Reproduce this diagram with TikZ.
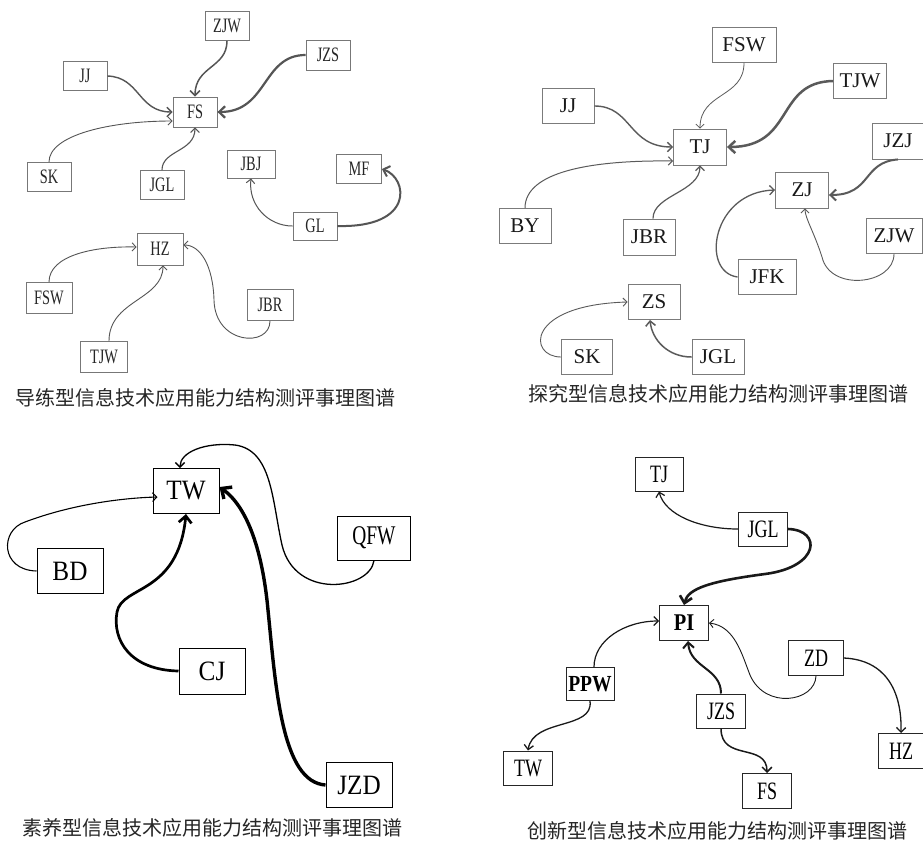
\documentclass[tikz,border=0pt]{standalone}
\usepackage{fontspec}
\setmainfont{Liberation Serif}
\newfontfamily\cjk{Noto Sans CJK SC}
\newfontfamily\condA[FakeStretch=0.7]{Liberation Serif}
\newfontfamily\condC[FakeStretch=0.9]{Liberation Serif}
\newfontfamily\condQ[FakeStretch=0.72]{Liberation Serif}
\newfontfamily\condD[FakeStretch=0.72]{Liberation Serif}
\newfontfamily\condDb[FakeStretch=0.85]{Liberation Serif}
\usetikzlibrary{arrows.meta}
\definecolor{gA}{HTML}{555555}
\definecolor{gB}{HTML}{5A5A5A}
\tikzset{
  boxA/.style={draw=gA!80, line width=0.9pt, inner sep=0pt, minimum width=44pt, minimum height=29pt,
    font=\condA\fontsize{20.5}{22}\selectfont, text=black!85},
  boxB/.style={draw=gB!80, line width=0.9pt, inner sep=0pt, minimum width=53pt, minimum height=35pt,
    font=\fontsize{21}{23}\selectfont, text=black!90},
  boxC/.style={draw=black, line width=1pt, inner sep=0pt, minimum width=66pt, minimum height=45pt,
    font=\condC\fontsize{28}{30}\selectfont},
  boxD/.style={draw=black!85, line width=1pt, inner sep=0pt, minimum width=49pt, minimum height=34pt,
    font=\condD\fontsize{25}{27}\selectfont},
  capt/.style={font=\cjk\fontsize{20}{22}\selectfont, text=black!85, inner sep=0pt},
  arr/.style={-{Straight Barb[length=2.5pt 1.6, width=6pt 2.5]}},
  eA/.style={arr, draw=gA},
  eB/.style={arr, draw=gB},
  eC/.style={arr, draw=black},
  eD/.style={arr, draw=black!90},
}
\begin{document}
\begin{tikzpicture}[x=1pt, y=-1pt]
\useasboundingbox[fill=white] (0,0) rectangle (923,841);

% ---------------- Quadrant 1 ----------------
\node[boxA] (aZJW) at (227,26) {ZJW};
\node[boxA, minimum height=30pt] (aJZS) at (328,55) {JZS};
\node[boxA] (aJJ) at (85,76) {JJ};
\node[boxA, minimum height=30pt] (aFS) at (195,112) {FS};
\node[boxA] (aSK) at (49,177) {SK};
\node[boxA] (aJGL) at (162,185) {JGL};
\node[boxA, minimum width=48pt, minimum height=28pt] (aJBJ) at (251,164) {JBJ};
\node[boxA, minimum width=45pt] (aMF) at (359,169) {MF};
\node[boxA, minimum height=28pt] (aGL) at (315,226) {GL};
\node[boxA, minimum width=46pt, minimum height=32pt] (aHZ) at (160,249) {HZ};
\node[boxA, minimum width=46pt, minimum height=31pt] (aFSW) at (49,298) {FSW};
\node[boxA, minimum width=46pt, minimum height=31pt] (aJBR) at (270,305) {JBR};
\node[boxA, minimum width=47pt, minimum height=31pt] (aTJW) at (104,357) {TJW};
\node[capt] (capA) at (205,398) {导练型信息技术应用能力结构测评事理图谱};

\draw[eA, line width=1.5pt] (aZJW.south) .. controls (227,68) and (195,66) .. (aFS.north);
\draw[eA, line width=2.2pt] (aJZS.west) .. controls (262,55) and (268,112) .. (aFS.east);
\draw[eA, line width=1.4pt] (aJJ.east) .. controls (140,77) and (138,112) .. (aFS.west);
\draw[eA, line width=0.9pt] (aSK.north) .. controls (49,135) and (110,121) .. ([yshift=-9pt]aFS.west);
\draw[eA, line width=1.1pt] (aJGL.north) .. controls (162,150) and (195,152) .. (aFS.south);
\draw[eA, line width=1pt] (aGL.west) .. controls (268,226) and (248,205) .. (aJBJ.south);
\draw[eA, line width=2pt] (aGL.east) .. controls (415,228) and (408,178) .. (aMF.east);
\draw[eA, line width=0.9pt] (aFSW.north) .. controls (49,255) and (95,246) .. ([yshift=2pt]aHZ.west);
\draw[eA, line width=0.9pt] ([xshift=5pt]aTJW.north) .. controls (109,300) and (163,300) .. ([xshift=3pt]aHZ.south);
\draw[eA, line width=0.9pt] (aJBR.south) .. controls (270,348) and (215,345) .. (214,300)
   .. controls (213,265) and (200,245) .. ([yshift=4pt]aHZ.east);

% ---------------- Quadrant 2 ----------------
\node[boxB, minimum width=64pt] (bFSW) at (744,45) {FSW};
\node[boxB] (bTJW) at (860,81) {TJW};
\node[boxB, minimum width=52pt] (bJJ) at (568,106) {JJ};
\node[boxB, minimum height=36pt] (bTJ) at (700,147) {TJ};
\node[boxB, minimum width=52pt, minimum height=36pt] (bJZJ) at (898,141) {JZJ};
\node[boxB, minimum height=36pt] (bZJ) at (802,190) {ZJ};
\node[boxB, minimum width=52pt] (bBY) at (525,226) {BY};
\node[boxB, minimum width=52pt, minimum height=36pt] (bJBR) at (649,237) {JBR};
\node[boxB, minimum width=56pt] (bZJW) at (894,236) {ZJW};
\node[boxB, minimum width=58pt] (bJFK) at (767,277) {JFK};
\node[boxB, minimum width=52pt] (bZS) at (654,302) {ZS};
\node[boxB, minimum width=51pt] (bSK) at (587,357) {SK};
\node[boxB, minimum width=52pt] (bJGL) at (718,357) {JGL};
\node[capt] (capB) at (718,394) {探究型信息技术应用能力结构测评事理图谱};

\draw[eB, line width=0.8pt] (bFSW.south) .. controls (744,98) and (700,92) .. (bTJ.north);
\draw[eB, line width=2.5pt] (bTJW.west) .. controls (775,82) and (795,147) .. (bTJ.east);
\draw[eB, line width=1.4pt] (bJJ.east) .. controls (632,106) and (628,147) .. (bTJ.west);
\draw[eB, line width=1pt] (bBY.north) .. controls (525,172) and (590,160) .. ([yshift=-14pt]bTJ.west);
\draw[eB, line width=1.2pt] ([xshift=4pt]bJBR.north) .. controls (653,195) and (700,192) .. (bTJ.south);
\draw[eB, line width=2pt] (bJZJ.south) .. controls (862,162) and (872,195) .. ([yshift=-5pt]bZJ.east);
\draw[eB, line width=1.3pt] (bJFK.west) .. controls (700,272) and (712,192) .. (bZJ.west);
\draw[eB, line width=0.9pt] (bZJW.south) .. controls (894,285) and (830,292) .. (822,257)
   .. controls (814,232) and (805,218) .. ([xshift=3pt]bZJ.south);
\draw[eB, line width=0.9pt] (bSK.west) .. controls (528,357) and (525,305) .. (bZS.west);
\draw[eB, line width=1.5pt] (bJGL.west) .. controls (668,357) and (652,340) .. ([xshift=-4pt]bZS.south);

% ---------------- Quadrant 3 ----------------
\node[boxC] (cTW) at (186,491) {TW};
\node[boxC, minimum width=73pt, minimum height=44pt, font=\condQ\fontsize{27}{29}\selectfont] (cQFW) at (374,538) {QFW};
\node[boxC] (cBD) at (70,571) {BD};
\node[boxC, minimum height=46pt] (cCJ) at (212,671) {CJ};
\node[boxC] (cJZD) at (359,785) {JZD};
\node[capt] (capC) at (212,828) {素养型信息技术应用能力结构测评事理图谱};

\draw[eC, line width=1.1pt] (cBD.west) .. controls (0,570) and (0,530) .. (25,522)
   .. controls (70,505) and (120,498) .. ([yshift=-6pt,xshift=5pt]cTW.west);
\draw[eC, line width=1.3pt] (cQFW.south) .. controls (370,590) and (295,600) .. (282,545)
   .. controls (272,500) and (272,450) .. (235,445) .. controls (205,442) and (180,452) .. ([xshift=-6pt]cTW.north);
\draw[eC, line width=2.7pt] (cCJ.west) .. controls (130,670) and (112,640) .. (117,612)
   .. controls (122,585) and (178,595) .. (cTW.south);
\draw[eC, line width=3.4pt] (cJZD.west) .. controls (282,782) and (276,690) .. (268,610)
   .. controls (262,545) and (245,505) .. ([yshift=4pt]cTW.east);

% ---------------- Quadrant 4 ----------------
\node[boxD, minimum width=48pt] (dTJ) at (659,474) {TJ};
\node[boxD] (dJGL) at (763,529) {JGL};
\node[boxD, minimum height=35pt, font=\condDb\bfseries\fontsize{24}{26}\selectfont] (dPI) at (684,623) {PI};
\node[boxD, minimum width=55pt, minimum height=35pt] (dZD) at (816,658) {ZD};
\node[boxD, minimum width=48pt, minimum height=33pt, font=\condDb\bfseries\fontsize{23}{25}\selectfont] (dPPW) at (590,684) {PPW};
\node[boxD] (dJZS) at (721,711) {JZS};
\node[boxD] (dTW) at (528,768) {TW};
\node[boxD, minimum width=46pt, minimum height=35pt] (dHZ) at (901,751) {HZ};
\node[boxD, minimum height=35pt] (dFS) at (767,791) {FS};
\node[capt] (capD) at (717,831) {创新型信息技术应用能力结构测评事理图谱};

\draw[eD, line width=1.2pt] (dJGL.west) .. controls (700,529) and (665,515) .. (dTJ.south);
\draw[eD, line width=2.6pt] (dJGL.east) .. controls (822,530) and (820,567) .. (765,574)
   .. controls (712,581) and (688,588) .. (dPI.north);
\draw[eD, line width=1.2pt] ([xshift=4pt]dPPW.north) .. controls (594,640) and (625,621) .. ([yshift=2pt]dPI.west);
\draw[eD, line width=0.9pt] (dZD.south) .. controls (815,702) and (765,710) .. (750,675)
   .. controls (742,655) and (735,626) .. (dPI.east);
\draw[eD, line width=1.3pt] (dZD.east) .. controls (885,660) and (902,690) .. (dHZ.north);
\draw[eD, line width=2pt] (dJZS.north) .. controls (721,668) and (690,668) .. ([xshift=4pt]dPI.south);
\draw[eD, line width=1.5pt] (dJZS.south) .. controls (721,762) and (767,742) .. (dFS.north);
\draw[eD, line width=1.3pt] (dPPW.south) .. controls (594,730) and (533,718) .. (dTW.north);
\end{tikzpicture}
\end{document}
